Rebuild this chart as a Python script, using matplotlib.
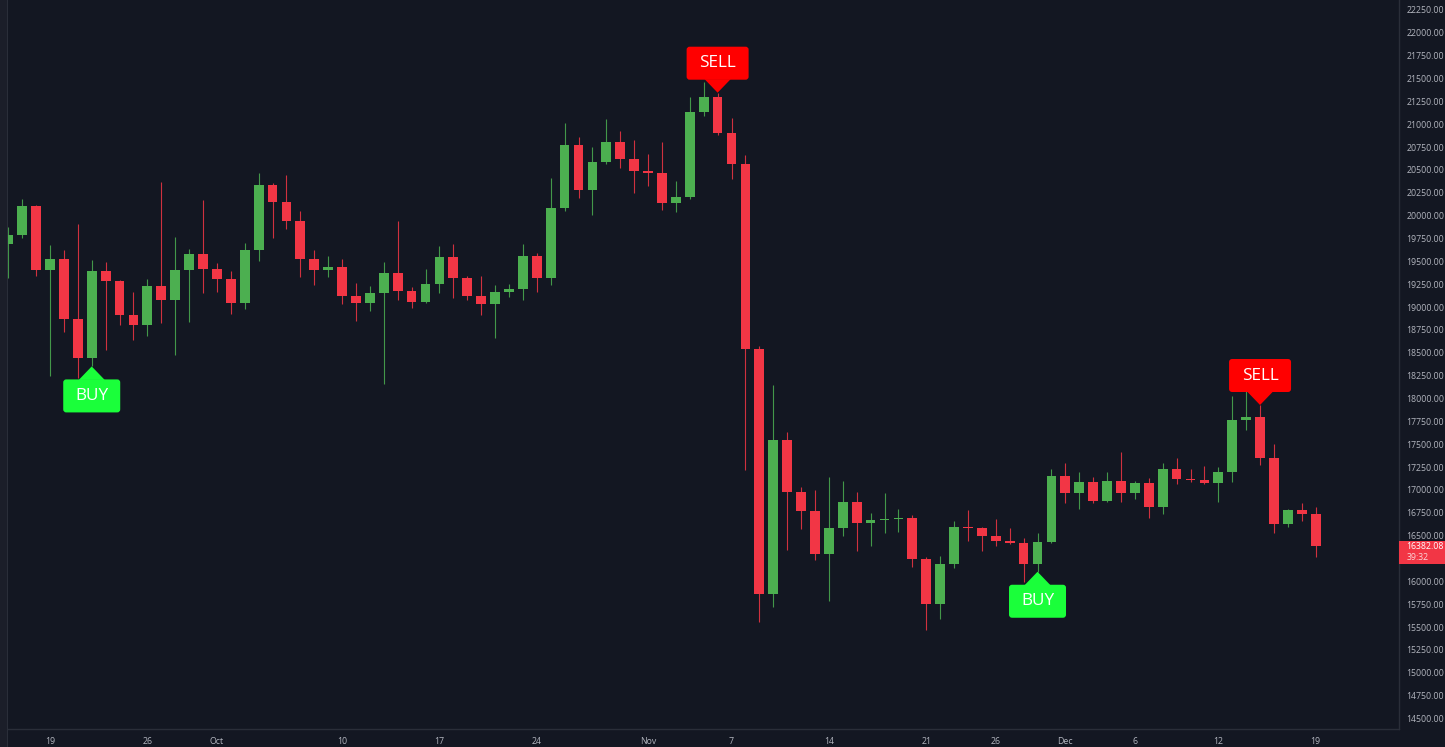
import numpy as np
import pandas as pd
import matplotlib
matplotlib.use('Agg')
import matplotlib.pyplot as plt
import matplotlib.transforms as mtransforms
from matplotlib.patches import FancyBboxPatch, Polygon, Rectangle

# daily candles, 16 Sep 2022 .. 19 Dec 2022
dates = pd.date_range('2022-09-16', '2022-12-19', freq='D')

opens = [19690, 19790, 20111, 19408, 19528, 18869, 18446, 19397, 19280, 18916,
         18799, 19226, 19073, 19408, 19586,
         19419, 19302, 19044, 19627, 20334, 20148, 19944, 19525, 19408, 19441,
         19124, 19044, 19153, 19372, 19171, 19055, 19258, 19547, 19317, 19116,
         19033, 19160, 19201, 19561, 19317, 20083, 20771, 20282, 20592, 20811, 20620,
         20489, 20470, 20142, 20201, 21137, 21295, 20901, 20562, 18538, 15861,
         17546, 16980, 16769, 16299, 16580, 16864, 16634, 16670, 16680, 16690,
         16240, 15748, 16189, 16591, 16580, 16495, 16441, 16416, 16189, 16427,
         17155, 16963, 17083, 16878, 17097, 16963, 17079, 16813, 17225, 17125,
         17110, 17079, 17199, 17764, 17794, 17345, 16624, 16780, 16740]
highs = [19880, 20181, 20120, 19674, 19627, 19908, 19510, 19488, 19299, 19164,
         19306, 20373, 19766, 19638, 20166,
         19481, 19390, 19700, 20465, 20356, 20447, 20056, 19619, 19561, 19525,
         19263, 19233, 19496, 19944, 19219, 19416, 19670, 19692, 19343, 19343,
         19244, 19252, 19689, 19591, 20410, 21012, 20865, 20749, 21060, 20930, 20828,
         20675, 20809, 20383, 21295, 21466, 21345, 21065, 20664, 18577, 18148,
         17637, 17035, 16999, 17144, 17097, 16980, 16744, 16969, 16791, 16725,
         16270, 16277, 16663, 16780, 16590, 16678, 16580, 16470, 16532, 17225,
         17291, 17192, 17144, 17192, 17418, 17100, 17127, 17291, 17352, 17228,
         17261, 17247, 18030, 18350, 17929, 17499, 16790, 16853, 16817]
lows = [19317, 19755, 19343, 18250, 18727, 18224, 18351, 18526, 18807, 18635,
        18687, 18826, 18471, 18840, 19153,
        19160, 18924, 18979, 19507, 19755, 19856, 19324, 19237, 19324, 19033,
        18853, 18962, 18162, 19073, 18989, 19050, 19153, 19099, 19073, 18909,
        18662, 19110, 19073, 19160, 19240, 20056, 20192, 20002, 20570, 20518, 20245,
        20328, 20062, 20037, 20182, 21090, 20882, 20398, 17218, 15558, 15722,
        16342, 16569, 16233, 15788, 16499, 16335, 16389, 16525, 16535, 16160,
        15467, 15587, 16142, 16444, 16331, 16386, 16410, 15995, 16105, 16419,
        16860, 16788, 16860, 16870, 16870, 16900, 16689, 16733, 17061, 17090,
        17070, 16864, 17090, 17655, 17272, 16531, 16590, 16660, 16262]
closes = [19790, 20111, 19408, 19528, 18869, 18446, 19397, 19280, 18916, 18799,
          19226, 19073, 19408, 19586, 19419,
          19302, 19044, 19627, 20334, 20148, 19944, 19525, 19408, 19441, 19124,
          19044, 19153, 19372, 19171, 19055, 19258, 19547, 19317, 19116, 19033,
          19160, 19201, 19561, 19317, 20083, 20771, 20282, 20592, 20811, 20620, 20489,
          20470, 20142, 20201, 21137, 21295, 20901, 20562, 18538, 15861, 17546,
          16980, 16769, 16299, 16580, 16864, 16634, 16670, 16680, 16690, 16240,
          15748, 16189, 16591, 16580, 16495, 16441, 16416, 16189, 16427, 17155,
          16963, 17083, 16878, 17097, 16963, 17079, 16813, 17225, 17119, 17110,
          17079, 17199, 17764, 17794, 17345, 16624, 16780, 16733, 16382.08]

signal_dates = ['2022-09-22', '2022-11-06', '2022-11-29', '2022-12-15']
signal_types = ['BUY', 'SELL', 'BUY', 'SELL']

tick_dates = ['2022-09-19', '2022-09-26', '2022-10-01', '2022-10-10', '2022-10-17',
              '2022-10-24', '2022-11-01', '2022-11-07', '2022-11-14', '2022-11-21',
              '2022-11-26', '2022-12-01', '2022-12-06', '2022-12-12', '2022-12-19']
tick_labels = ['19', '26', 'Oct', '10', '17', '24', 'Nov', '7', '14', '21',
               '26', 'Dec', '6', '12', '19']

last_price = closes[-1]
countdown = '39:32'

bg = '#131722'
up_col = '#4caf50'
dn_col = '#f23645'
txt_col = '#b2b5be'
line_col = '#2a2e39'
font = ['Open Sans', 'DejaVu Sans']

o = np.array(opens, dtype=float)
h = np.array(highs, dtype=float)
l = np.array(lows, dtype=float)
c = np.array(closes, dtype=float)
x = np.arange(len(dates))

fig = plt.figure(figsize=(14.45, 7.47), dpi=100, facecolor=bg)
W, H = 1445, 747
ax = fig.add_axes([8 / W, 18 / H, 1391 / W, 729 / H], facecolor=bg)

cols = np.where(c >= o, up_col, dn_col)
ax.vlines(x, l, h, colors=cols, linewidth=0.8, alpha=0.85, zorder=2)
body_lo = np.minimum(o, c)
body_h = np.maximum(np.abs(c - o), 12)
ax.bar(x, body_h, bottom=body_lo, width=0.7, color=cols, linewidth=0, zorder=3)

ax.set_xlim(-0.02, 99.99)
ax.set_ylim(14385, 22359)

# axes look
for s in ['top', 'left']:
    ax.spines[s].set_visible(False)
for s in ['bottom', 'right']:
    ax.spines[s].set_color(line_col)
    ax.spines[s].set_linewidth(1.0)

ax.yaxis.tick_right()
yt = np.arange(14500, 22251, 250)
ax.set_yticks(yt)
# the scale label just under the last-price tag is covered in the original
ylabs = ['' if 0 < last_price - v < 250 else '%.2f' % v for v in yt]
ax.set_yticklabels(ylabs)
tick_x = dates.get_indexer(pd.to_datetime(tick_dates))
ax.set_xticks(tick_x)
ax.set_xticklabels(tick_labels)
ax.tick_params(axis='y', length=0, pad=5.5, labelsize=6.3, labelcolor=txt_col)
ax.tick_params(axis='x', length=0, pad=5.5, labelsize=6.3, labelcolor=txt_col)
for t in ax.get_xticklabels() + ax.get_yticklabels():
    t.set_family(font)

# buy / sell labels, shapes in pixels anchored on the candle
for d, kind in zip(signal_dates, signal_types):
    i = dates.get_loc(pd.Timestamp(d))
    if kind == 'BUY':
        tr = mtransforms.ScaledTranslation(x[i], l[i], ax.transData)
        col, w, sgn = '#1aff3a', 57, -1
    else:
        tr = mtransforms.ScaledTranslation(x[i], h[i], ax.transData)
        col, w, sgn = '#ff0000', 62, 1
    tri = Polygon([(-13, sgn * 13.5), (13, sgn * 13.5), (0, 0)], closed=True,
                  fc=col, ec='none', transform=tr, zorder=6, clip_on=False)
    y0 = 13 if sgn > 0 else -46
    box = FancyBboxPatch((-w / 2, y0), w, 33, boxstyle='round,pad=0,rounding_size=3',
                         fc=col, ec='none', transform=tr, zorder=6, clip_on=False)
    ax.add_patch(tri)
    ax.add_patch(box)
    ax.text(0, sgn * 29.5, kind, transform=tr, ha='center', va='center',
            color='white', fontsize=12.3, fontweight='medium', family=font, zorder=7)

# last price tag on the price scale
blend = mtransforms.blended_transform_factory(ax.transAxes, ax.transData)
tr = mtransforms.ScaledTranslation(1.0, last_price, blend)
tag = Rectangle((0, -17.5), 46, 23.3, fc=dn_col, ec='none', transform=tr,
                zorder=10, clip_on=False)
ax.add_patch(tag)
ax.text(7.5, 0, '%.2f' % last_price, transform=tr, ha='left', va='center',
        color='white', fontsize=6.3, family=font, zorder=11)
ax.text(7.5, -11, countdown, transform=tr, ha='left', va='center',
        color='#fbd5d8', fontsize=6.3, family=font, zorder=11)

# thin strip at the left edge
fig.patches.append(Rectangle((0, 0), 7 / W, 1, transform=fig.transFigure,
                             fc='#1b1e29', ec='none', zorder=0))
fig.patches.append(Rectangle((7 / W, 0), 1 / W, 1, transform=fig.transFigure,
                             fc=line_col, ec='none', zorder=0))

fig.savefig('out.png', dpi=100, facecolor=bg)
